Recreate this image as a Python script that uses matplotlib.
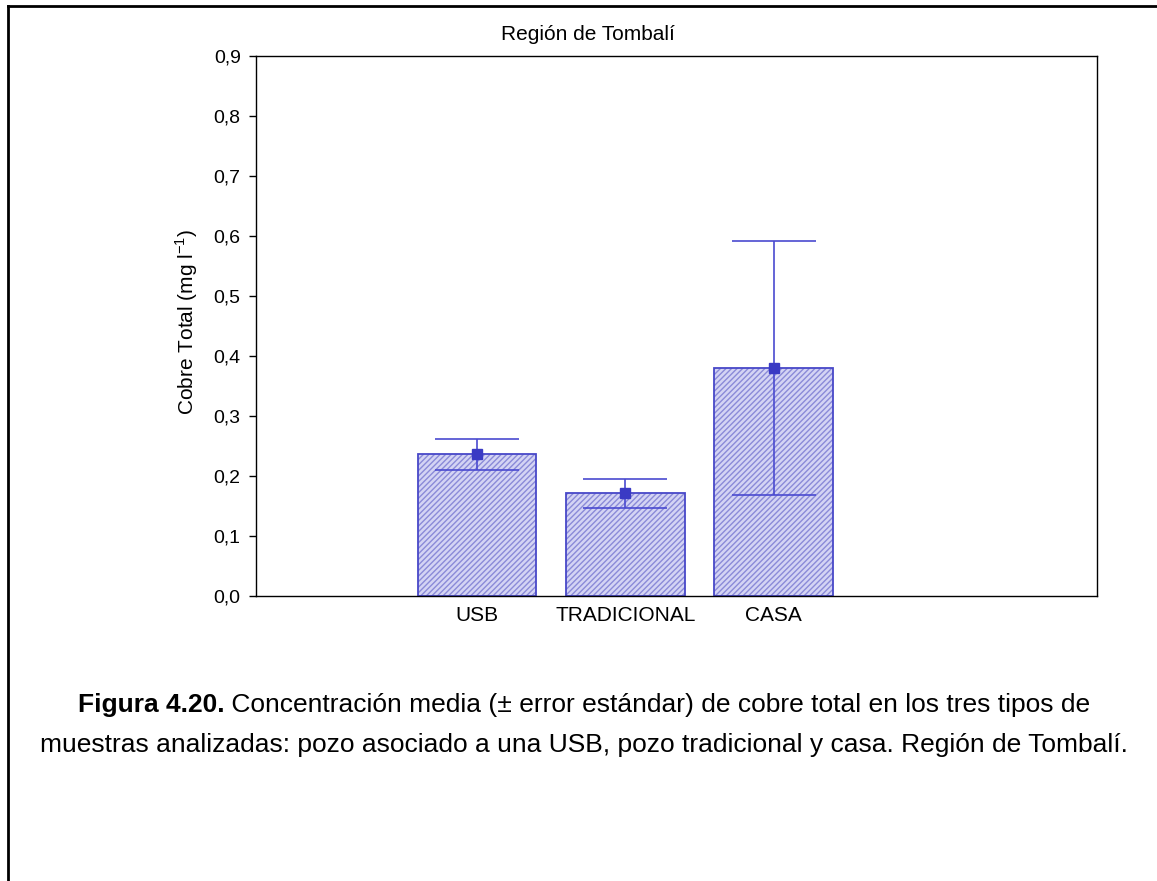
import numpy as np
import matplotlib.pyplot as plt
from matplotlib.lines import Line2D

plt.rcParams['font.family'] = ['Liberation Sans', 'DejaVu Sans']

categories = ['USB', 'TRADICIONAL', 'CASA']
means = [0.236, 0.171, 0.380]
errors = [0.026, 0.024, 0.211]
yticks = [0.0, 0.1, 0.2, 0.3, 0.4, 0.5, 0.6, 0.7, 0.8, 0.9]

bar_col = '#4848c8'
fill_col = '#d4d4f4'

W, H = 1157, 881
fig = plt.figure(figsize=(W / 100, H / 100), dpi=100)
ax = fig.add_axes([256 / W, 1 - 596 / H, (1097 - 256) / W, (596 - 56) / H])

x = np.arange(1, len(categories) + 1)
ax.bar(x, means, width=0.8, color=fill_col, edgecolor='#8a8ad8', hatch='//////', linewidth=0)
ax.bar(x, means, width=0.8, color='none', edgecolor=bar_col, linewidth=1.3)
ax.errorbar(x, means, yerr=errors, fmt='s', color='#3a3ac4', ms=7,
            ecolor='#4a4ad0', elinewidth=1.2, capsize=30, capthick=1.2)

ax.set_xlim(-0.49, 5.18)
ax.set_ylim(0, 0.9)
ax.set_yticks(yticks)
ax.set_yticklabels([f'{v:.1f}'.replace('.', ',') for v in yticks], fontsize=14)
ax.set_xticks(x)
ax.set_xticklabels(categories, fontsize=15)
ax.tick_params(axis='x', length=0, pad=7)
ax.tick_params(axis='y', length=5, width=1, direction='out', pad=6)
for s in ax.spines.values():
    s.set_linewidth(1)

# y label and title placed in figure coords
fig.text(187 / W, 1 - 322 / H, 'Cobre Total (mg l$^{\\mathregular{-1}}$)', fontsize=15,
         rotation=90, ha='center', va='center')
fig.text(588 / W, 1 - 34 / H, 'Región de Tombalí', fontsize=15, ha='center', va='center')

# caption
cap_fs = 19
cx = 584 / W
cap_y1 = 1 - 705 / H
cap_y2 = 1 - 745 / H
t1 = fig.text(0, cap_y1, 'Figura 4.20.', fontsize=cap_fs, fontweight='bold', va='center', ha='left')
t2 = fig.text(0, cap_y1, ' Concentración media (± error estándar) de cobre total en los tres tipos de',
              fontsize=cap_fs, va='center', ha='left')
fig.canvas.draw()
r = fig.canvas.get_renderer()
w1 = t1.get_window_extent(r).width / W
w2 = t2.get_window_extent(r).width / W
x0 = cx - (w1 + w2) / 2
t1.set_x(x0)
t2.set_x(x0 + w1)
fig.text(cx, cap_y2,
         'muestras analizadas: pozo asociado a una USB, pozo tradicional y casa. Región de Tombalí.',
         fontsize=cap_fs, va='center', ha='center')

# page frame
fig.add_artist(Line2D([8 / W, 8 / W], [0, 1 - 6 / H], color='black', lw=2))
fig.add_artist(Line2D([8 / W, 1], [1 - 6 / H, 1 - 6 / H], color='black', lw=2))

fig.savefig('out.png', dpi=100)
